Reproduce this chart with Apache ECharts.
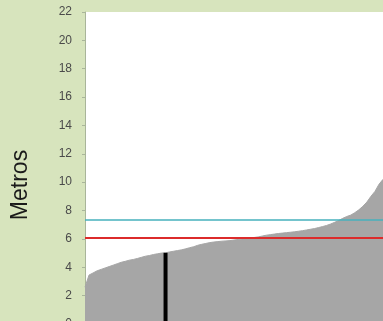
<!DOCTYPE html>
<html>
<head>
<meta charset="utf-8">
<script src="https://cdn.jsdelivr.net/npm/echarts@6/dist/echarts.min.js"></script>
<style>
html,body{margin:0;padding:0;background:#d7e4bd;}
#c{width:383px;height:321px;}
</style>
</head>
<body>
<div id="c"></div>
<script>
// Sorted values (metros) across the visible part of the chart
const heights = [2.6,3.45,3.6,3.75,3.85,3.95,4.05,4.15,4.25,4.35,4.42,4.5,4.55,4.62,4.7,4.78,4.83,4.9,4.95,5.0,
  5.02,5.08,5.13,5.18,5.23,5.3,5.38,5.45,5.55,5.62,5.68,5.74,5.78,5.81,5.84,5.86,5.88,5.92,5.96,6.0,
  6.04,6.08,6.1,6.14,6.2,6.26,6.3,6.34,6.38,6.41,6.44,6.47,6.5,6.54,6.58,6.63,6.68,6.73,6.8,6.87,
  6.95,7.05,7.17,7.3,7.45,7.58,7.68,7.85,8.05,8.3,8.6,9.0,9.35,9.85,10.2];
const categories = heights.map((_, i) => String(i + 1));
const highlightIndex = 20;
const highlight = heights.map((v, i) => i === highlightIndex ? v : null);
const redLevel = 6.1;
const cyanLevel = 7.35;
const yTicks = [0,2,4,6,8,10,12,14,16,18,20,22];

const chart = echarts.init(document.getElementById('c'));
chart.setOption({
  backgroundColor: '#d7e4bd',
  animation: false,
  grid: {left: 85, right: 0, top: 12, bottom: -3, show: true, backgroundColor: '#ffffff', borderWidth: 0,
         containLabel: false, outerBoundsMode: 'none'},
  xAxis: {
    type: 'category', data: categories, boundaryGap: false,
    axisLine: {show: false}, axisTick: {show: false}, axisLabel: {show: false}, splitLine: {show: false}
  },
  yAxis: {
    type: 'value', min: yTicks[0], max: yTicks[yTicks.length - 1], interval: 2,
    name: 'Metros', nameLocation: 'middle', nameGap: 53, nameRotate: 90,
    nameTextStyle: {fontFamily: 'Liberation Sans', fontSize: 23, color: '#1a1a1a', padding: [0, 34, 0, 0]},
    axisLine: {show: true, lineStyle: {color: '#a9b59a', width: 1}},
    axisTick: {show: true, length: 3, lineStyle: {color: '#a9b59a'}},
    axisLabel: {fontFamily: 'Liberation Sans', fontSize: 12, color: '#4a4a4a', margin: 13},
    splitLine: {show: false}
  },
  series: [
    {
      type: 'line', data: heights, symbol: 'none',
      lineStyle: {color: '#a6a6a6', width: 1},
      areaStyle: {color: '#a6a6a6', opacity: 1},
      markLine: {
        silent: true, symbol: 'none', label: {show: false},
        data: [
          {yAxis: cyanLevel, lineStyle: {color: '#46b0bd', width: 1.5, type: 'solid'}},
          {yAxis: redLevel, lineStyle: {color: '#dc2b2b', width: 2, type: 'solid'}}
        ]
      },
      z: 2
    },
    {
      type: 'bar', data: highlight, barWidth: 4,
      itemStyle: {color: '#000000'}, z: 3
    }
  ]
});
</script>
</body>
</html>
